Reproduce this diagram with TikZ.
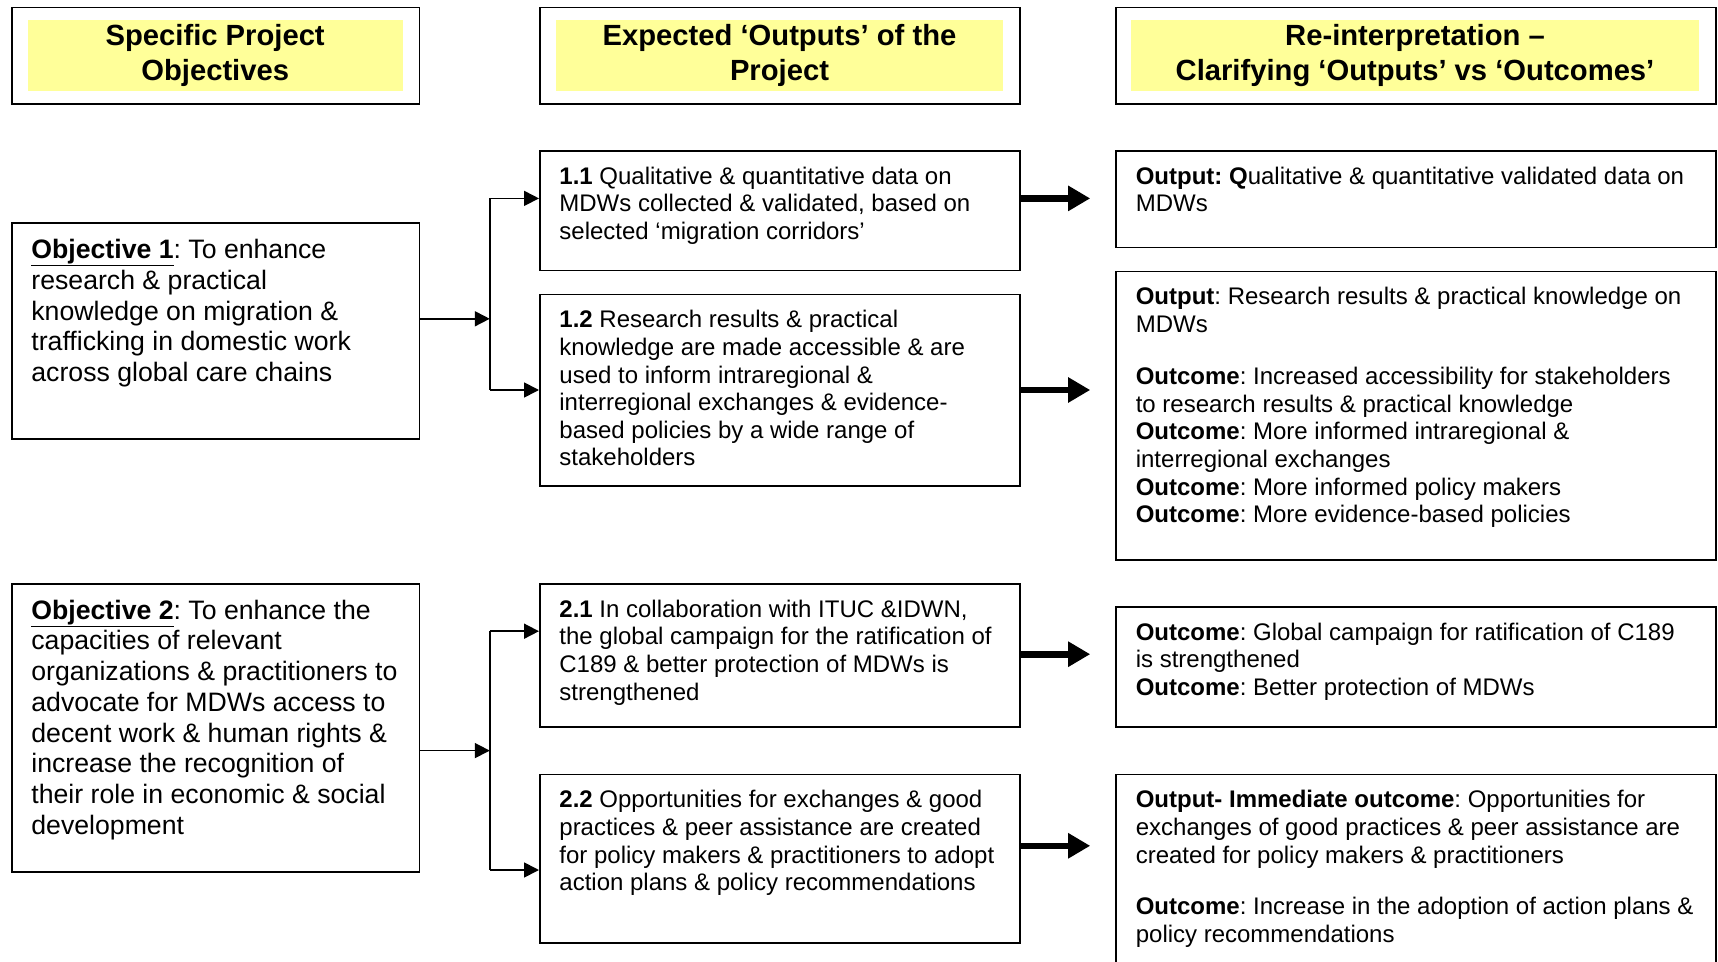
\documentclass[tikz,border=0pt]{standalone}
\usepackage{fontspec}
\setmainfont{Liberation Sans}
\usetikzlibrary{arrows.meta,calc}
\definecolor{hdryellow}{HTML}{FFFF99}
\newcommand{\objul}[1]{\underline{\raisebox{0pt}[\height][2pt]{#1}}}
\frenchspacing
\begin{document}
\frenchspacing
\begin{tikzpicture}[x=1pt,y=-1pt,
 box/.style={draw=black, line width=0.9pt, rectangle, inner sep=0pt, anchor=north west},
 hdrfill/.style={fill=hdryellow, draw=none, rectangle, inner sep=0pt, anchor=north west, align=center, font=\fontsize{14.6}{17.5}\selectfont\bfseries},
 objtxt/.style={anchor=north west, inner sep=0pt, align=left, font=\fontsize{13.33}{15.35}\selectfont},
 bodytxt/.style={anchor=north west, inner sep=0pt, align=left, font=\fontsize{12}{13.8}\selectfont},
 thinarrow/.style={line width=0.85pt, -{Triangle[length=7.5pt,width=7.5pt]}},
 thinline/.style={line width=0.85pt},
 fatarrow/.style={line width=3.3pt, -{Triangle[length=11pt,width=12pt]}},
]
\useasboundingbox (0,0) rectangle (859,481);

% header boxes
\node[box, minimum width=203.8pt, minimum height=48.2pt] (h1) at (5.5,3.3) {};
\node[box, minimum width=240pt, minimum height=48.2pt] (h2) at (269.5,3.3) {};
\node[box, minimum width=299.7pt, minimum height=48.2pt] (h3) at (557.7,3.3) {};
\node[hdrfill, minimum width=187.4pt, minimum height=35.6pt] (y1) at (13.7,9.86) {Specific Project\\ Objectives};
\node[hdrfill, minimum width=223.5pt, minimum height=35.6pt] (y2) at (277.8,9.86) {Expected ‘Outputs’ of the\\ Project};
\node[hdrfill, minimum width=283.8pt, minimum height=35.6pt] (y3) at (565.4,9.86) {Re-interpretation –\\ Clarifying ‘Outputs’ vs ‘Outcomes’};

% objective boxes
\node[box, minimum width=203.8pt, minimum height=107.9pt] (o1) at (5.5,111.2) {};
\node[box, minimum width=203.8pt, minimum height=144pt] (o2) at (5.5,291.5) {};
\node[objtxt] (o1t) at ($(o1.north west)+(10,8.25)$) {\objul{\textbf{Objective 1}}: To enhance\\ research \& practical\\ knowledge on migration \&\\ trafficking in domestic work\\ across global care chains};
\node[objtxt] (o2t) at ($(o2.north west)+(10,8.25)$) {\objul{\textbf{Objective 2}}: To enhance the\\ capacities of relevant\\ organizations \& practitioners to\\ advocate for MDWs access to\\ decent work \& human rights \&\\ increase the recognition of\\ their role in economic \& social\\ development};

% output boxes
\node[box, minimum width=240pt, minimum height=59.75pt] (b11) at (269.5,75.05) {};
\node[box, minimum width=240pt, minimum height=95.9pt] (b12) at (269.5,146.8) {};
\node[box, minimum width=240pt, minimum height=71.7pt] (b21) at (269.5,291.5) {};
\node[box, minimum width=240pt, minimum height=84.4pt] (b22) at (269.5,386.8) {};
\node[bodytxt] (b11t) at ($(b11.north west)+(10,8.25)$) {\textbf{1.1} Qualitative \& quantitative data on\\ MDWs collected \& validated, based on\\ selected ‘migration corridors’};
\node[bodytxt] (b12t) at ($(b12.north west)+(10,8.25)$) {\textbf{1.2} Research results \& practical\\ knowledge are made accessible \& are\\ used to inform intraregional \&\\ interregional exchanges \& evidence-\\ based policies by a wide range of\\ stakeholders};
\node[bodytxt] (b21t) at ($(b21.north west)+(10,8.25)$) {\textbf{2.1} In collaboration with ITUC \&IDWN,\\ the global campaign for the ratification of\\ C189 \& better protection of MDWs is\\ strengthened};
\node[bodytxt] (b22t) at ($(b22.north west)+(10,8.25)$) {\textbf{2.2} Opportunities for exchanges \& good\\ practices \& peer assistance are created\\ for policy makers \& practitioners to adopt\\ action plans \& policy recommendations};

% re-interpretation boxes
\node[box, minimum width=299.7pt, minimum height=48.25pt] (r1) at (557.7,75.05) {};
\node[box, minimum width=299.7pt, minimum height=144.1pt] (r2) at (557.7,135.3) {};
\node[box, minimum width=299.7pt, minimum height=60.2pt] (r3) at (557.7,303) {};
\node[box, minimum width=299.7pt, minimum height=110pt] (r4) at (557.7,386.8) {};
\node[bodytxt] (r1t) at ($(r1.north west)+(10,8.25)$) {\textbf{Output: Q}ualitative \& quantitative validated data on\\ MDWs};
\node[bodytxt] (r2t) at ($(r2.north west)+(10,8.25)$) {\textbf{Output}: Research results \& practical knowledge on\\ MDWs\\[12.3pt] \textbf{Outcome}: Increased accessibility for stakeholders\\ to research results \& practical knowledge\\ \textbf{Outcome}: More informed intraregional \&\\ interregional exchanges\\ \textbf{Outcome}: More informed policy makers\\ \textbf{Outcome}: More evidence-based policies};
\node[bodytxt] (r3t) at ($(r3.north west)+(10,8.25)$) {\textbf{Outcome}: Global campaign for ratification of C189\\ is strengthened\\ \textbf{Outcome}: Better protection of MDWs};
\node[bodytxt] (r4t) at ($(r4.north west)+(10,8.25)$) {\textbf{Output- Immediate outcome}: Opportunities for\\ exchanges of good practices \& peer assistance are\\ created for policy makers \& practitioners\\[12pt] \textbf{Outcome}: Increase in the adoption of action plans \&\\ policy recommendations};

% branching connectors
\coordinate (j1) at (244.9,159.4);
\coordinate (j1t) at (244.9,99.2);
\coordinate (j1b) at (244.9,195.0);
\coordinate (j2) at (244.9,375.3);
\coordinate (j2t) at (244.9,315.6);
\coordinate (j2b) at (244.9,435.0);
\draw[thinarrow] (o1.east |- j1) -- (j1);
\draw[thinline] (j1t) -- (j1b);
\draw[thinarrow] (j1t) -- (b11.west |- j1t);
\draw[thinarrow] (j1b) -- (b12.west |- j1b);
\draw[thinarrow] (o2.east |- j2) -- (j2);
\draw[thinline] (j2t) -- (j2b);
\draw[thinarrow] (j2t) -- (b21.west |- j2t);
\draw[thinarrow] (j2b) -- (b22.west |- j2b);

% thick arrows
\coordinate (t1) at (0,99.2);
\coordinate (t2) at (0,195.0);
\coordinate (t3) at (0,327.1);
\coordinate (t4) at (0,422.9);
\draw[fatarrow] (b11.east |- t1) -- ($(r1.west |- t1)+(-12.6,0)$);
\draw[fatarrow] (b12.east |- t2) -- ($(r2.west |- t2)+(-12.6,0)$);
\draw[fatarrow] (b21.east |- t3) -- ($(r3.west |- t3)+(-12.6,0)$);
\draw[fatarrow] (b22.east |- t4) -- ($(r4.west |- t4)+(-12.6,0)$);
\end{tikzpicture}
\end{document}
